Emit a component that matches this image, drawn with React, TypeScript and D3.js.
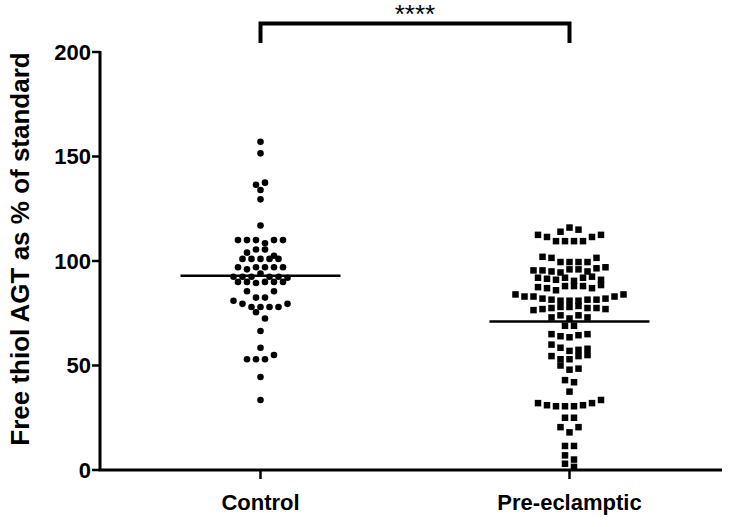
import React from 'react';
import * as d3 from 'd3';

const width = 732;
const height = 527;

const categories = ['Control', 'Pre-eclamptic'];

// values (% of standard), roughly left to right per row
const controlValues = [
  157, 151.5, 136.5, 137.5, 134, 129.5, 117,
  110, 110, 110, 108.5, 110, 110,
  104, 105.5, 105.5, 102.5,
  101, 101, 101, 101, 101,
  97, 96, 97, 97, 97, 97,
  92.5, 92.5, 92.5, 94, 92.5, 92.5, 92,
  90, 90, 89.5, 90, 90, 90,
  85.5, 82.5, 82.5, 85.5,
  81, 79.5, 78, 78, 78, 78, 79.5,
  75.5, 72.5, 66.5, 58.5,
  53, 53, 53, 55,
  44.5, 33.5,
];

const preValues = [
  114, 116, 115,
  112.5, 111.5, 109.5, 109.5, 109.5, 109.5, 111.5, 112.5,
  102, 101.5, 99.5, 99.5, 99.5, 99.5, 101.5,
  95.5, 95.5, 95, 94.5, 96, 96, 95, 96.5, 97,
  92, 91.5, 91, 92, 90.5, 92, 92.5, 91,
  87.5, 87, 86, 88, 88, 88, 87, 88.5,
  84, 83, 83, 82, 81.5, 81, 81, 81, 81.5, 81.5, 82, 83, 84,
  76.5, 77, 77.5, 78, 78, 78.5, 77.5, 77.5, 77,
  73, 74, 72.5, 74, 73,
  69, 69,
  65, 64, 63.5, 64.5, 65,
  60, 58.5, 57, 57.5, 58,
  54.5, 53, 53, 54.5, 55,
  50, 48, 48.5,
  43, 42,
  37.5,
  32, 31, 30.5, 30.5, 30.5, 31, 32, 33.5,
  25, 25,
  20.5, 18, 20.5,
  11.5, 11.5,
  7, 5,
  3, 1.5,
];

const groupMeans = [93, 71];
const yTicks = [0, 50, 100, 150, 200];
const significance = '****';

const font = "'Liberation Sans', Arial, Helvetica, sans-serif";

// prism-like scatter: values close together share a row, spread sideways
function swarm(values: number[], gap = 3.2, spacing = 9) {
  const rows: number[][] = [];
  values.forEach((v) => {
    const last = rows[rows.length - 1];
    if (last && d3.max(last)! - v <= gap && v - d3.min(last)! <= gap) last.push(v);
    else rows.push([v]);
  });
  const out: { v: number; dx: number }[] = [];
  rows.forEach((r) => {
    r.forEach((v, i) => out.push({ v, dx: (i - (r.length - 1) / 2) * spacing }));
  });
  return out;
}

export default function App() {
  const y = d3.scaleLinear().domain([0, 200]).range([470, 52]);
  const x = d3.scalePoint<string>().domain(categories).range([106, 724]).padding(0.5);

  const axisX = 100;
  const axisY = y(0);
  const cx0 = x(categories[0])!;
  const cx1 = x(categories[1])!;

  const ctrl = swarm(controlValues);
  const pre = swarm(preValues);
  const sq = 6.5;

  return (
    <svg width={width} height={height} style={{ position: 'absolute', left: 0, top: 0, background: '#fff' }}>
      <rect width={width} height={height} fill="#fff" />

      {/* y axis */}
      <line x1={axisX} x2={axisX} y1={y(200) - 1} y2={axisY} stroke="#000" strokeWidth={3} />
      {yTicks.map((t) => (
        <g key={t}>
          <line x1={axisX - 8} x2={axisX} y1={y(t)} y2={y(t)} stroke="#000" strokeWidth={2.5} />
          <text x={axisX - 9} y={y(t)} dy="0.36em" textAnchor="end" fontFamily={font} fontWeight="bold" fontSize={22}>
            {t}
          </text>
        </g>
      ))}
      <text
        transform={`translate(29, 249) rotate(-90)`}
        textAnchor="middle"
        fontFamily={font}
        fontWeight="bold"
        fontSize={26}
      >
        Free thiol AGT as % of standard
      </text>

      {/* x axis */}
      <line x1={axisX - 1.5} x2={722} y1={axisY} y2={axisY} stroke="#000" strokeWidth={3} />
      {categories.map((c) => (
        <g key={c}>
          <line x1={x(c)} x2={x(c)} y1={axisY} y2={axisY + 9} stroke="#000" strokeWidth={2.5} />
          <text x={x(c)} y={510} textAnchor="middle" fontFamily={font} fontWeight="bold" fontSize={22}>
            {c}
          </text>
        </g>
      ))}

      {/* points */}
      {ctrl.map((d, i) => (
        <circle key={'c' + i} cx={cx0 + d.dx} cy={y(d.v)} r={3.3} fill="#000" />
      ))}
      {pre.map((d, i) => (
        <rect key={'p' + i} x={cx1 + d.dx - sq / 2} y={y(d.v) - sq / 2} width={sq} height={sq} fill="#000" />
      ))}

      {/* means */}
      <line x1={cx0 - 80} x2={cx0 + 80} y1={y(groupMeans[0])} y2={y(groupMeans[0])} stroke="#000" strokeWidth={2.5} />
      <line x1={cx1 - 80} x2={cx1 + 80} y1={y(groupMeans[1])} y2={y(groupMeans[1])} stroke="#000" strokeWidth={2.5} />

      {/* significance bracket */}
      <path d={`M${cx0},43 V23.5 H${cx1} V43`} fill="none" stroke="#000" strokeWidth={4} />
      <text x={(cx0 + cx1) / 2} y={23} textAnchor="middle" fontFamily={font} fontSize={26}>
        {significance}
      </text>
    </svg>
  );
}
